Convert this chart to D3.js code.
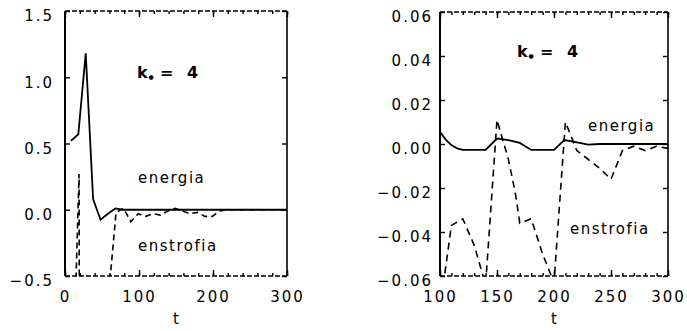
<!DOCTYPE html>
<html>
<head>
<meta charset="utf-8">
<script src="https://cdn.jsdelivr.net/npm/d3@7"></script>
<style>
  body { margin: 0; background: #fff; }
  svg { display: block; }
</style>
</head>
<body>
<div id="chart"></div>
<script>
"use strict";
// left panel: full range
var leftEnergyT = [8, 18, 28, 38, 48, 58, 68, 78, 100, 150, 200, 250, 300];
var leftEnergyV = [0.52, 0.57, 1.18, 0.08, -0.075, -0.03, 0.01, 0.0, 0.0, 0.0, 0.0, 0.0, 0.0];

var leftEnstT = [9, 19, 29, 39, 49, 59, 69, 79, 89, 99, 109, 119, 129, 139, 149, 159, 169, 179, 189, 199, 209, 219, 300];
var leftEnstV = [-1.65, 0.27, -30, -8, -3, -0.64, -0.02, 0.01, -0.09, -0.03, -0.05, -0.03, -0.04, -0.01, 0.01,
  -0.01, -0.03, -0.02, -0.05, -0.05, -0.01, 0.0, 0.0];

// right panel: zoom on t >= 100
var rightEnergyT = [100, 105, 110, 115, 120, 130, 140, 150, 160, 170, 180, 190, 200, 209, 218, 230, 240, 250, 260, 270, 280, 290, 300];
var rightEnergyV = [0.0055, 0.002, -0.0005, -0.002, -0.0027, -0.0027, -0.0027, 0.0025, 0.0018, 0.0005, -0.0027, -0.0027,
  -0.0027, 0.0018, 0.001, -0.0003, 0.0, 0.0, 0.0, 0.0, 0.0, 0.0, 0.0];

var rightEnstT = [100, 110, 120, 130, 140, 150, 155, 160, 166, 170, 180, 190, 200, 210, 220, 230, 240, 250, 260, 270, 280, 290, 300];
var rightEnstV = [-0.075, -0.037, -0.034, -0.046, -0.064, 0.011, 0.002, -0.007, -0.022, -0.036, -0.034, -0.05, -0.063,
  0.01, -0.003, -0.007, -0.011, -0.016, -0.003, -0.001, -0.003, -0.001, -0.002];

var leftXTicks = [0, 100, 200, 300];
var leftYTicks = [-0.5, 0.0, 0.5, 1.0, 1.5];
var rightXTicks = [100, 150, 200, 250, 300];
var rightYTicks = [-0.06, -0.04, -0.02, 0.0, 0.02, 0.04, 0.06];

var W = 687, H = 331;
var font = "DejaVu Sans, Liberation Sans, sans-serif";

var svg = d3.select("#chart").append("svg")
  .attr("width", W)
  .attr("height", H);

function zip(ts, vs) {
  return ts.map(function(t, i) { return { t: t, v: vs[i] }; });
}

function drawPanel(p) {
  var x = d3.scaleLinear().domain(p.xDomain).range([p.x0, p.x1]);
  var y = d3.scaleLinear().domain(p.yDomain).range([p.y1, p.y0]);
  var g = svg.append("g");

  var clipId = "clip-" + p.id;
  g.append("clipPath").attr("id", clipId)
    .append("rect")
    .attr("x", p.x0).attr("y", p.y0)
    .attr("width", p.x1 - p.x0).attr("height", p.y1 - p.y0);

  var line = d3.line()
    .x(function(d) { return x(d.t); })
    .y(function(d) { return y(d.v); });

  var lines = g.append("g").attr("clip-path", "url(#" + clipId + ")");
  lines.append("path")
    .datum(zip(p.enstT, p.enstV))
    .attr("d", line)
    .attr("fill", "none")
    .attr("stroke", "#000")
    .attr("stroke-width", 1.6)
    .attr("stroke-dasharray", p.dash);
  lines.append("path")
    .datum(zip(p.energyT, p.energyV))
    .attr("d", line)
    .attr("fill", "none")
    .attr("stroke", "#000")
    .attr("stroke-width", 1.8);

  // axes with inward ticks
  var yAxis = g.append("g")
    .attr("transform", "translate(" + p.x0 + ",0)")
    .call(d3.axisLeft(y).tickValues(p.yTicks).tickSize(-5).tickPadding(p.yPad).tickFormat(d3.format(p.yFmt)));
  yAxis.selectAll("text").attr("dy", "0.65em");
  g.append("g")
    .attr("transform", "translate(" + p.x1 + ",0)")
    .call(d3.axisRight(y).tickValues(p.yTicks).tickSize(-5).tickFormat(""));

  g.append("g")
    .attr("transform", "translate(0," + p.y1 + ")")
    .call(d3.axisBottom(x).tickValues(p.xMinor).tickSize(-3).tickFormat(""));
  g.append("g")
    .attr("transform", "translate(0," + p.y0 + ")")
    .call(d3.axisTop(x).tickValues(p.xMinor).tickSize(-3).tickFormat(""));
  g.append("g")
    .attr("transform", "translate(0," + p.y0 + ")")
    .call(d3.axisTop(x).tickValues(p.xTicks).tickSize(-6).tickFormat(""));
  g.append("g")
    .attr("transform", "translate(0," + p.y1 + ")")
    .call(d3.axisBottom(x).tickValues(p.xTicks).tickSize(-6).tickPadding(15).tickFormat(d3.format("d")));

  g.selectAll(".domain").remove();
  g.selectAll(".tick line").attr("stroke", "#000").attr("stroke-width", 1.4);
  g.selectAll(".tick text")
    .attr("fill", "#000")
    .style("font-family", font)
    .style("font-size", "15px")
    .style("letter-spacing", "2px");

  // frame: solid sides, broken top and bottom
  g.append("line").attr("x1", p.x0).attr("x2", p.x0).attr("y1", p.y0).attr("y2", p.y1)
    .attr("stroke", "#000").attr("stroke-width", 2);
  g.append("line").attr("x1", p.x1).attr("x2", p.x1).attr("y1", p.y0).attr("y2", p.y1)
    .attr("stroke", "#000").attr("stroke-width", 1.6);
  [p.y0, p.y1].forEach(function(yy) {
    g.append("line").attr("x1", p.x0).attr("x2", p.x1).attr("y1", yy).attr("y2", yy)
      .attr("stroke", "#000").attr("stroke-width", 1.6)
      .attr("stroke-dasharray", "5,2");
  });

  // annotations
  var kx = p.kPos[0], ky = p.kPos[1];
  var k = g.append("text")
    .attr("y", ky)
    .style("font-family", font).style("font-size", "16px").style("font-weight", "bold");
  k.append("tspan").attr("x", kx).text("k");
  k.append("tspan").attr("x", kx + 11.5).attr("dy", 1).style("font-size", "6px").text("\u25CF");
  k.append("tspan").attr("x", kx + 23).attr("dy", -1).text("=");
  k.append("tspan").attr("x", kx + 50).text("4");

  g.append("text").attr("x", p.ePos[0]).attr("y", p.ePos[1])
    .style("font-family", font).style("font-size", "15px").style("letter-spacing", "1.5px")
    .text("energia");
  g.append("text").attr("x", p.sPos[0]).attr("y", p.sPos[1])
    .style("font-family", font).style("font-size", "15px").style("letter-spacing", "1.5px")
    .text("enstrofia");

  g.append("text")
    .attr("x", (p.x0 + p.x1) / 2).attr("y", 324)
    .attr("text-anchor", "middle")
    .style("font-family", font).style("font-size", "15px")
    .text("t");
}

drawPanel({
  id: "left",
  x0: 65, x1: 287, y0: 11, y1: 276,
  xDomain: [0, 300], yDomain: [-0.5, 1.5],
  xTicks: leftXTicks, yTicks: leftYTicks,
  xMinor: d3.range(0, 301, 20),
  yFmt: ".1f", yPad: 11,
  energyT: leftEnergyT, energyV: leftEnergyV,
  enstT: leftEnstT, enstV: leftEnstV,
  dash: "6,4",
  kPos: [137, 78], ePos: [138, 183], sPos: [138, 251]
});

drawPanel({
  id: "right",
  x0: 440, x1: 668, y0: 12, y1: 276,
  xDomain: [100, 300], yDomain: [-0.06, 0.06],
  xTicks: rightXTicks, yTicks: rightYTicks,
  xMinor: d3.range(100, 301, 10),
  yFmt: ".2f", yPad: 7,
  energyT: rightEnergyT, energyV: rightEnergyV,
  enstT: rightEnstT, enstV: rightEnstV,
  dash: "7,5",
  kPos: [517, 57], ePos: [588, 131], sPos: [570, 234]
});
</script>
</body>
</html>
